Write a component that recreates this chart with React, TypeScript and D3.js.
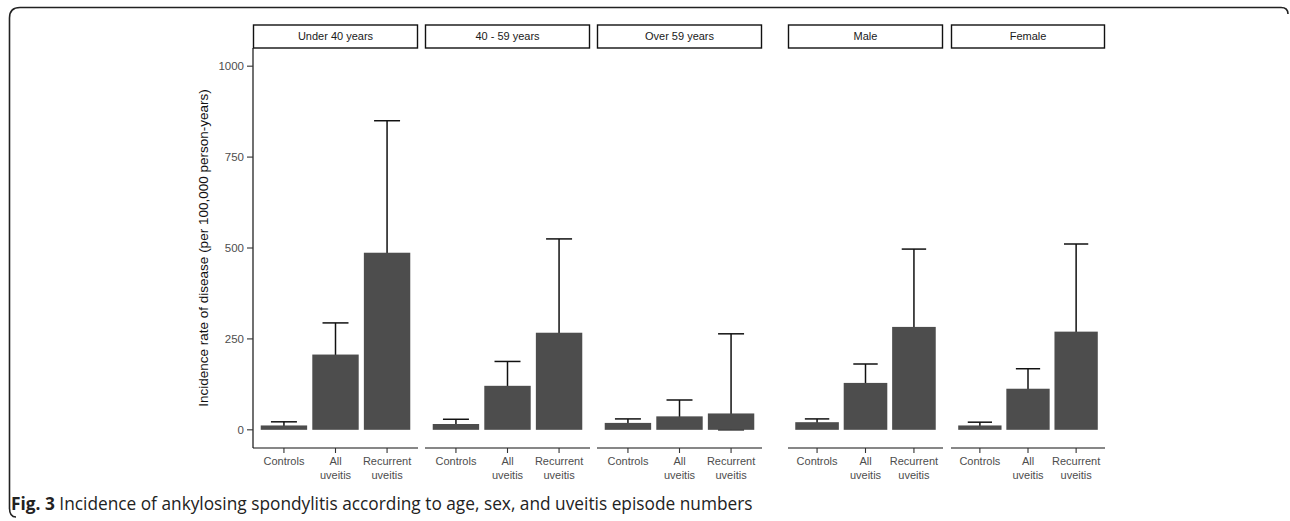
import React from "react";
import * as d3 from "d3";

// facets, groups and values (per 100,000 person-years)
const facets = ["Under 40 years", "40 - 59 years", "Over 59 years", "Male", "Female"];
const groups = ["Controls", "All uveitis", "Recurrent uveitis"];
const groupLines = [["Controls"], ["All", "uveitis"], ["Recurrent", "uveitis"]];
const rate = [
  [12, 207, 487],
  [16, 121, 267],
  [19, 37, 45],
  [21, 129, 283],
  [12, 113, 270],
];
const upper = [
  [22, 294, 850],
  [29, 188, 525],
  [30, 82, 264],
  [30, 181, 497],
  [21, 168, 511],
];
const lower = [
  [6, 140, 270],
  [9, 70, 130],
  [11, 12, 0],
  [14, 90, 160],
  [6, 70, 135],
];
const yTicks = [0, 250, 500, 750, 1000];

const width = 1290;
const height = 521;
// panel x extents (left, right)
const panelX: [number, number][] = [
  [253, 418],
  [425, 590],
  [597, 762],
  [788, 943],
  [951, 1105],
];
const panelTop = 48;
const panelBottom = 448;
const stripTop = 25;

const App: React.FC = () => {
  const y = d3.scaleLinear().domain([-50, 1050]).range([panelBottom, panelTop]);
  const font = "'Liberation Sans', Arial, sans-serif";

  return (
    <svg
      width={width}
      height={height}
      style={{ position: "absolute", left: 0, top: 0, background: "white" }}
    >
      {/* frame */}
      <path
        d="M1288,14 Q1288,7.5 1281,7.5 L20,7.5 Q9.5,7.5 9.5,18 L9.5,508 Q9.5,517 16,517"
        fill="none"
        stroke="#222"
        strokeWidth={1.6}
      />

      {/* y axis */}
      <line x1={253} x2={253} y1={panelTop} y2={panelBottom} stroke="#111" strokeWidth={1.2} />
      {yTicks.map((t) => (
        <g key={t}>
          <line x1={247} x2={253} y1={y(t)} y2={y(t)} stroke="#333" strokeWidth={1.1} />
          <text
            x={244}
            y={y(t)}
            dy="0.35em"
            textAnchor="end"
            fontFamily={font}
            fontSize={11.5}
            fill="#4d4d4d"
          >
            {t}
          </text>
        </g>
      ))}
      <text
        transform={`translate(208, ${(panelTop + panelBottom) / 2}) rotate(-90)`}
        textAnchor="middle"
        fontFamily={font}
        fontSize={13.5}
        fill="#111"
      >
        Incidence rate of disease (per 100,000 person-years)
      </text>

      {facets.map((facet, fi) => {
        const [x0, x1] = panelX[fi];
        const x = d3
          .scaleBand<string>()
          .domain(groups)
          .range([x0, x1])
          .paddingInner(0.1)
          .paddingOuter(0.15);
        const bw = x.bandwidth();
        return (
          <g key={facet}>
            {/* strip */}
            <rect
              x={x0 + 0.5}
              y={stripTop}
              width={x1 - x0 - 1}
              height={panelTop - stripTop}
              fill="white"
              stroke="#111"
              strokeWidth={1.4}
            />
            <text
              x={(x0 + x1) / 2}
              y={(stripTop + panelTop) / 2}
              dy="0.35em"
              textAnchor="middle"
              fontFamily={font}
              fontSize={11}
              fill="#1a1a1a"
            >
              {facet}
            </text>

            {/* error bars under the bars */}
            {groups.map((g, gi) => {
              const cx = (x(g) ?? 0) + bw / 2;
              const hw = bw * 0.28;
              return (
                <g key={`e-${g}`} stroke="#111" strokeWidth={1.5}>
                  <line x1={cx} x2={cx} y1={y(lower[fi][gi])} y2={y(upper[fi][gi])} />
                  <line x1={cx - hw} x2={cx + hw} y1={y(upper[fi][gi])} y2={y(upper[fi][gi])} />
                  <line x1={cx - hw} x2={cx + hw} y1={y(lower[fi][gi])} y2={y(lower[fi][gi])} />
                </g>
              );
            })}

            {/* bars */}
            {groups.map((g, gi) => (
              <rect
                key={`b-${g}`}
                x={x(g)}
                y={y(rate[fi][gi])}
                width={bw}
                height={y(0) - y(rate[fi][gi])}
                fill="#4d4d4d"
              />
            ))}

            {/* x axis */}
            <line x1={x0} x2={x1} y1={panelBottom} y2={panelBottom} stroke="#111" strokeWidth={1.2} />
            {groups.map((g, gi) => {
              const cx = (x(g) ?? 0) + bw / 2;
              return (
                <g key={`t-${g}`}>
                  <line x1={cx} x2={cx} y1={panelBottom} y2={panelBottom + 5} stroke="#333" strokeWidth={1.1} />
                  {groupLines[gi].map((ln, li) => (
                    <text
                      key={ln}
                      x={cx}
                      y={461 + li * 14}
                      dy="0.35em"
                      textAnchor="middle"
                      fontFamily={font}
                      fontSize={11}
                      fill="#4d4d4d"
                    >
                      {ln}
                    </text>
                  ))}
                </g>
              );
            })}
          </g>
        );
      })}

      {/* caption */}
      <text x={11} y={510} fontFamily="'Open Sans', 'Noto Sans', sans-serif" fontSize={17.3} fill="#222">
        <tspan fontWeight="bold">Fig. 3</tspan>
        <tspan> Incidence of ankylosing spondylitis according to age, sex, and uveitis episode numbers</tspan>
      </text>
    </svg>
  );
};

export default App;
